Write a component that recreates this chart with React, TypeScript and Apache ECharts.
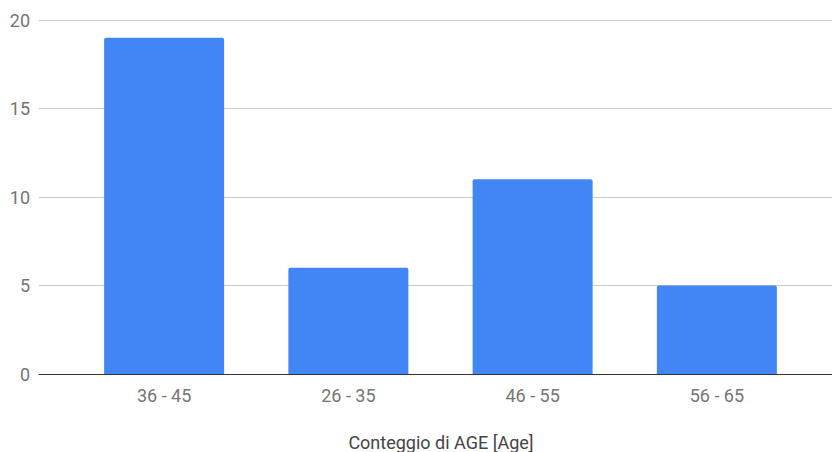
import React, { useEffect, useRef } from "react";
import * as echarts from "echarts";

const categories = ["36 - 45", "26 - 35", "46 - 55", "56 - 65"];
const counts = [19, 6, 11, 5];
const yTicks = { min: 0, max: 20, interval: 5 };
const axisTitle = "Conteggio di AGE [Age]";

export default function App() {
  const ref = useRef<HTMLDivElement>(null);
  useEffect(() => {
    document.body.style.margin = "0";
    const chart = echarts.init(ref.current!, null, { renderer: "svg" });
    const font = "Roboto, 'Noto Sans', sans-serif";
    chart.setOption({
      animation: false,
      grid: [
        { left: 39, right: 0, top: 20, bottom: 78 },
        { left: 72, right: 23, top: 20, bottom: 78 },
      ],
      xAxis: [
        {
          gridIndex: 0,
          type: "value",
          min: 0,
          max: 1,
          axisLine: { show: true, lineStyle: { color: "#333", width: 1 } },
          axisTick: { show: false },
          axisLabel: { show: false },
          splitLine: { show: false },
        },
        {
          gridIndex: 1,
          type: "category",
          data: categories,
          axisLine: { show: false },
          axisTick: { show: false },
          axisLabel: { color: "#757575", fontSize: 18, fontFamily: font, margin: 12 },
          splitLine: { show: false },
        },
      ],
      yAxis: [
        {
          gridIndex: 0,
          type: "value",
          min: yTicks.min,
          max: yTicks.max,
          interval: yTicks.interval,
          axisLine: { show: false },
          axisTick: { show: false },
          axisLabel: { color: "#757575", fontSize: 18, fontFamily: font, margin: 9 },
          splitLine: { lineStyle: { color: "#cccccc", width: 1 } },
        },
        {
          gridIndex: 1,
          type: "value",
          min: yTicks.min,
          max: yTicks.max,
          interval: yTicks.interval,
          show: false,
          splitLine: { show: false },
        },
      ],
      graphic: [
        {
          type: "text",
          x: 441,
          y: 442,
          style: {
            text: axisTitle,
            fill: "#444",
            fontSize: 18,
            fontFamily: font,
            align: "center",
            verticalAlign: "middle",
          },
        },
      ],
      series: [
        {
          type: "bar",
          xAxisIndex: 1,
          yAxisIndex: 1,
          data: counts,
          barWidth: 120,
          itemStyle: { color: "#4285F4", borderRadius: [2, 2, 0, 0] },
        },
      ],
    });
    return () => chart.dispose();
  }, []);
  return <div ref={ref} style={{ width: 832, height: 452 }} />;
}
